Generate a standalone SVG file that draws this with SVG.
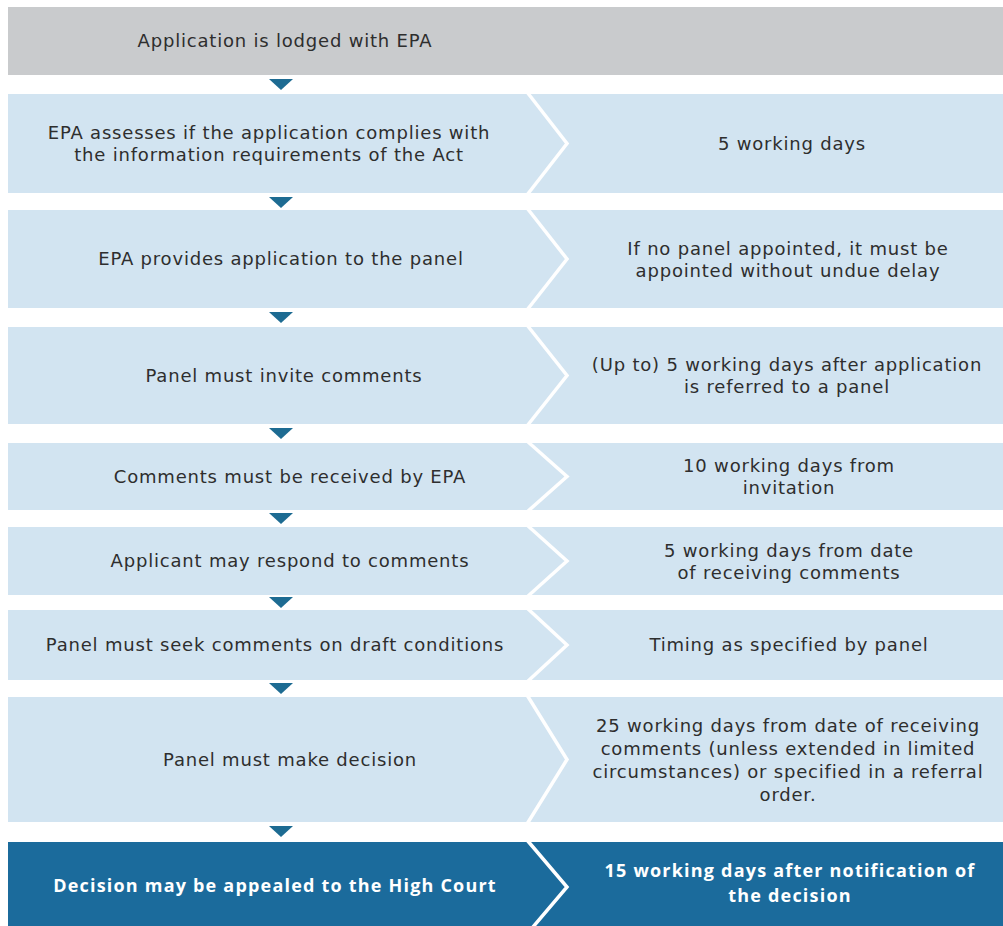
<svg xmlns="http://www.w3.org/2000/svg" width="1003" height="926" viewBox="0 0 1003 926">
<defs>
<style>
.bg{fill:#ffffff}
.hdr{fill:#c9cbcd}
.row{fill:#d2e4f1}
.dark{fill:#1b6b9c}
.chev{fill:none;stroke:#ffffff;stroke-width:3.5;stroke-linejoin:miter}
.t{font-family:"DejaVu Sans","Open Sans",sans-serif;font-size:18px;letter-spacing:0.8px;fill:#2e2e2e;text-anchor:middle}
.tw{font-family:"Open Sans","Liberation Sans",sans-serif;font-size:18px;letter-spacing:1.2px;font-weight:bold;fill:#ffffff;text-anchor:middle}
.tri{fill:#1d6b92}
</style>
</defs>
<rect class="bg" x="0" y="0" width="1003" height="926"/>

<g id="node-lodged">
<rect class="hdr" x="8" y="7" width="995" height="68"/>
<text class="t" x="285" y="47">Application is lodged with EPA</text>
</g>

<g id="node-assess">
<rect class="row" x="8" y="94" width="995" height="99"/>
<polyline class="chev" points="527,92 567,143.5 527,195"/>
<text class="t" x="269" y="139">EPA assesses if the application complies with</text>
<text class="t" x="269" y="161">the information requirements of the Act</text>
<text class="t" x="792" y="150">5 working days</text>
</g>

<g id="node-provide">
<rect class="row" x="8" y="210" width="995" height="98"/>
<polyline class="chev" points="527,208 567,259 527,310"/>
<text class="t" x="281" y="265">EPA provides application to the panel</text>
<text class="t" x="788" y="255">If no panel appointed, it must be</text>
<text class="t" x="788" y="277">appointed without undue delay</text>
</g>

<g id="node-invite">
<rect class="row" x="8" y="327" width="995" height="97"/>
<polyline class="chev" points="527,325 567,375.5 527,426"/>
<text class="t" x="284" y="382">Panel must invite comments</text>
<text class="t" x="787" y="371">(Up to) 5 working days after application</text>
<text class="t" x="787" y="393">is referred to a panel</text>
</g>

<g id="node-received">
<rect class="row" x="8" y="443" width="995" height="67"/>
<polyline class="chev" points="527,441 567,476.5 527,512"/>
<text class="t" x="290" y="483">Comments must be received by EPA</text>
<text class="t" x="789" y="472">10 working days from</text>
<text class="t" x="789" y="494">invitation</text>
</g>

<g id="node-respond">
<rect class="row" x="8" y="527" width="995" height="68"/>
<polyline class="chev" points="527,525 567,561 527,597"/>
<text class="t" x="290" y="567">Applicant may respond to comments</text>
<text class="t" x="789" y="557">5 working days from date</text>
<text class="t" x="789" y="579">of receiving comments</text>
</g>

<g id="node-draft">
<rect class="row" x="8" y="610" width="995" height="70"/>
<polyline class="chev" points="527,608 567,645 527,682"/>
<text class="t" x="275" y="651">Panel must seek comments on draft conditions</text>
<text class="t" x="789" y="651">Timing as specified by panel</text>
</g>

<g id="node-decision">
<rect class="row" x="8" y="697" width="995" height="125"/>
<polyline class="chev" points="527,695 567,759.5 527,824"/>
<text class="t" x="290" y="766">Panel must make decision</text>
<text class="t" x="788" y="732">25 working days from date of receiving</text>
<text class="t" x="788" y="755">comments (unless extended in limited</text>
<text class="t" x="788" y="778">circumstances) or specified in a referral</text>
<text class="t" x="788" y="801">order.</text>
</g>

<g id="node-appeal">
<rect class="dark" x="8" y="842" width="995" height="90"/>
<polyline class="chev" points="527,840 567,887 527,934"/>
<text class="tw" x="275" y="892">Decision may be appealed to the High Court</text>
<text class="tw" x="790" y="877">15 working days after notification of</text>
<text class="tw" x="790" y="902">the decision</text>
</g>

<g id="connectors">
<polygon class="tri" points="269,79 293,79 281,90"/>
<polygon class="tri" points="269,197 293,197 281,208"/>
<polygon class="tri" points="269,312 293,312 281,323"/>
<polygon class="tri" points="269,428 293,428 281,439"/>
<polygon class="tri" points="269,513 293,513 281,524"/>
<polygon class="tri" points="269,597 293,597 281,608"/>
<polygon class="tri" points="269,683 293,683 281,694"/>
<polygon class="tri" points="269,826 293,826 281,837"/>
</g>
</svg>
